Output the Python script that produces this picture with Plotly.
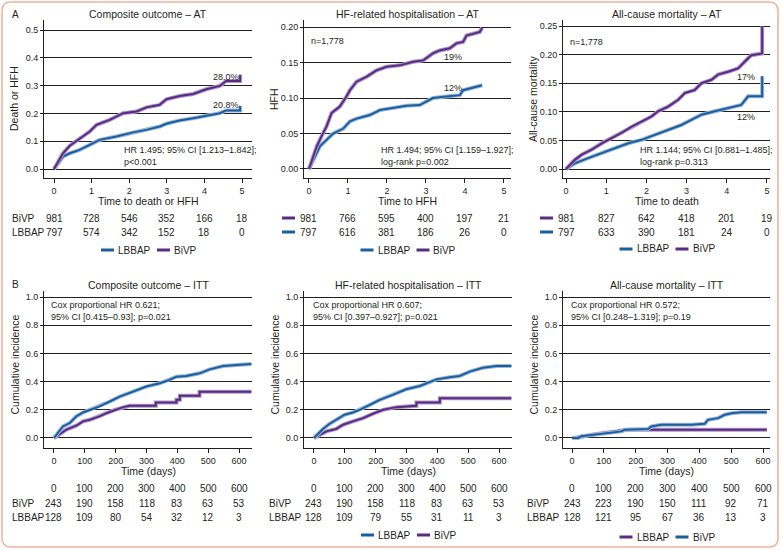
import plotly.graph_objects as go

W, H = 781, 550
FONT = "Liberation Sans"
INK = "#231f20"
BLUE = "#1b5e9e"
BLUE_HALO = "#9cb9da"
PURPLE = "#5b2b84"
PURPLE_HALO = "#ab98c6"

# ---------------- data ----------------
# A: as-treated, time in years
at_comp_t_bivp = [0, 0.24, 0.42, 0.68, 0.95, 1.13, 1.48, 1.84, 2.19, 2.46, 2.81, 2.99, 3.34, 3.70, 4.05, 4.41, 4.58, 4.95, 4.95]
at_comp_y_bivp = [0, 0.057, 0.084, 0.108, 0.135, 0.159, 0.177, 0.201, 0.207, 0.222, 0.231, 0.251, 0.263, 0.270, 0.287, 0.299, 0.317, 0.317, 0.339]
at_comp_t_lbbap = [0, 0.24, 0.42, 0.68, 0.95, 1.21, 1.66, 2.10, 2.46, 2.81, 2.99, 3.34, 3.70, 4.05, 4.41, 4.58, 4.95, 4.95]
at_comp_y_lbbap = [0, 0.045, 0.057, 0.069, 0.087, 0.105, 0.117, 0.132, 0.141, 0.153, 0.163, 0.175, 0.183, 0.191, 0.201, 0.211, 0.211, 0.227]

at_hfh_t_bivp = [0, 0.20, 0.32, 0.45, 0.58, 0.79, 0.96, 1.05, 1.22, 1.48, 1.73, 1.99, 2.33, 2.67, 2.93, 3.18, 3.35, 3.61, 3.78, 3.95, 4.04, 4.21, 4.38, 4.44]
at_hfh_y_bivp = [0, 0.032, 0.046, 0.060, 0.079, 0.088, 0.102, 0.111, 0.123, 0.130, 0.139, 0.144, 0.146, 0.151, 0.153, 0.163, 0.167, 0.170, 0.177, 0.179, 0.188, 0.191, 0.193, 0.199]
at_hfh_t_lbbap = [0, 0.15, 0.28, 0.45, 0.62, 0.88, 1.05, 1.22, 1.56, 1.82, 2.16, 2.50, 2.84, 3.01, 3.18, 3.52, 3.87, 3.95, 4.21, 4.44]
at_hfh_y_lbbap = [0, 0.018, 0.032, 0.041, 0.050, 0.057, 0.067, 0.071, 0.076, 0.083, 0.086, 0.089, 0.090, 0.095, 0.100, 0.102, 0.104, 0.111, 0.115, 0.118]

at_mort_t_bivp = [0, 0.22, 0.39, 0.64, 0.89, 1.13, 1.38, 1.63, 1.88, 2.13, 2.29, 2.54, 2.79, 2.96, 3.20, 3.37, 3.62, 3.78, 4.03, 4.28, 4.45, 4.61, 4.88, 4.88]
at_mort_y_bivp = [0, 0.016, 0.025, 0.034, 0.045, 0.054, 0.063, 0.074, 0.083, 0.092, 0.101, 0.109, 0.121, 0.133, 0.138, 0.150, 0.156, 0.165, 0.170, 0.176, 0.188, 0.199, 0.202, 0.249]
at_mort_t_lbbap = [0, 0.22, 0.55, 0.89, 1.22, 1.55, 1.88, 2.21, 2.54, 2.87, 3.12, 3.37, 3.70, 4.03, 4.36, 4.53, 4.88, 4.88]
at_mort_y_lbbap = [0, 0.010, 0.019, 0.028, 0.037, 0.045, 0.051, 0.060, 0.069, 0.077, 0.086, 0.095, 0.101, 0.106, 0.112, 0.127, 0.127, 0.162]

# B: intention-to-treat, time in days
itt_comp_t_lbbap = [0, 29, 51, 72, 94, 116, 148, 181, 213, 256, 299, 343, 375, 397, 429, 472, 505, 548, 591, 640]
itt_comp_y_lbbap = [0, 0.082, 0.106, 0.153, 0.181, 0.200, 0.224, 0.259, 0.294, 0.329, 0.365, 0.388, 0.412, 0.435, 0.440, 0.459, 0.487, 0.511, 0.518, 0.525]
itt_comp_t_bivp = [0, 40, 72, 94, 116, 148, 170, 197, 224, 245, 330, 330, 397, 397, 408, 408, 472, 472, 640]
itt_comp_y_bivp = [0, 0.059, 0.087, 0.118, 0.129, 0.153, 0.176, 0.200, 0.219, 0.228, 0.228, 0.252, 0.252, 0.271, 0.271, 0.299, 0.299, 0.329, 0.329]

itt_hfh_t_lbbap = [0, 29, 51, 83, 99, 126, 148, 181, 213, 256, 299, 343, 375, 397, 440, 472, 505, 548, 591, 640]
itt_hfh_y_lbbap = [0, 0.064, 0.101, 0.141, 0.165, 0.181, 0.200, 0.235, 0.271, 0.306, 0.346, 0.369, 0.400, 0.416, 0.431, 0.440, 0.471, 0.499, 0.511, 0.511]
itt_hfh_t_bivp = [0, 40, 72, 94, 126, 159, 191, 224, 267, 332, 332, 408, 408, 640]
itt_hfh_y_bivp = [0, 0.047, 0.064, 0.094, 0.118, 0.141, 0.172, 0.200, 0.219, 0.228, 0.252, 0.252, 0.282, 0.282]

itt_mort_t_bivp = [0, 19, 29, 71, 103, 155, 165, 239, 249, 281, 375, 417, 427, 459, 480, 501, 532, 612]
itt_mort_y_bivp = [0, 0, 0.012, 0.024, 0.035, 0.047, 0.059, 0.064, 0.082, 0.094, 0.094, 0.101, 0.129, 0.141, 0.165, 0.176, 0.182, 0.182]
itt_mort_t_lbbap = [0, 29, 61, 92, 134, 155, 176, 612]
itt_mort_y_lbbap = [0, 0.007, 0.024, 0.035, 0.047, 0.054, 0.059, 0.059]

# numbers at risk
at_ticks = [0, 1, 2, 3, 4, 5]
itt_ticks = [0, 100, 200, 300, 400, 500, 600]
at_comp_risk_bivp = [981, 728, 546, 352, 166, 18]
at_comp_risk_lbbap = [797, 574, 342, 152, 18, 0]
at_hfh_risk_bivp = [981, 766, 595, 400, 197, 21]
at_hfh_risk_lbbap = [797, 616, 381, 186, 26, 0]
at_mort_risk_bivp = [981, 827, 642, 418, 201, 19]
at_mort_risk_lbbap = [797, 633, 390, 181, 24, 0]
itt_comp_risk_bivp = [243, 190, 158, 118, 83, 63, 53]
itt_comp_risk_lbbap = [128, 109, 80, 54, 32, 12, 3]
itt_hfh_risk_bivp = [243, 190, 158, 118, 83, 63, 53]
itt_hfh_risk_lbbap = [128, 109, 79, 55, 31, 11, 3]
itt_mort_risk_bivp = [243, 223, 190, 150, 111, 92, 71]
itt_mort_risk_lbbap = [128, 121, 95, 67, 36, 13, 3]

# end-of-curve labels
at_comp_end_labels = ["28.0%", "20.8%"]
at_hfh_end_labels = ["19%", "12%"]
at_mort_end_labels = ["17%", "12%"]


def px(x):
    return x / W


def py(y):
    return 1 - y / H


def txt(text, x, y, size=9, xanchor="left", xref="paper", angle=0, yanchor="middle"):
    return dict(text=text, x=x, y=y, xref=xref, yref="paper", showarrow=False,
                xanchor=xanchor, yanchor=yanchor, textangle=angle, align="left",
                font=dict(family=FONT, size=size, color=INK))


# panel geometry (pixels) and axes
panels = [
    dict(x0=44, x1=252, top=20, bot=178, xr=[-0.266, 5.266], yr=[-0.032, 0.536],
         yt=[0, 0.1, 0.2, 0.3, 0.4, 0.5], yf=".1f", xt=at_ticks,
         title="Composite outcome – AT", ytitle="Death or HFH", xtitle="Time to death or HFH",
         curves=[(at_comp_t_lbbap, at_comp_y_lbbap, BLUE, BLUE_HALO),
                 (at_comp_t_bivp, at_comp_y_bivp, PURPLE, PURPLE_HALO)]),
    dict(x0=304, x1=511, top=20, bot=178, xr=[-0.128, 5.18], yr=[-0.0127, 0.2099],
         yt=[0, 0.05, 0.1, 0.15, 0.2], yf=".2f", xt=at_ticks,
         title="HF-related hospitalisation – AT", ytitle="HFH", xtitle="Time to HFH",
         curves=[(at_hfh_t_lbbap, at_hfh_y_lbbap, BLUE, BLUE_HALO),
                 (at_hfh_t_bivp, at_hfh_y_bivp, PURPLE, PURPLE_HALO)]),
    dict(x0=563, x1=770, top=20, bot=178, xr=[-0.075, 5.075], yr=[-0.0157, 0.2605],
         yt=[0, 0.05, 0.1, 0.15, 0.2, 0.25], yf=".2f", xt=at_ticks,
         title="All-cause mortality – AT", ytitle="All-cause mortality", xtitle="Time to death",
         curves=[(at_mort_t_lbbap, at_mort_y_lbbap, BLUE, BLUE_HALO),
                 (at_mort_t_bivp, at_mort_y_bivp, PURPLE, PURPLE_HALO)]),
    dict(x0=44, x1=252, top=291, bot=448, xr=[-32.4, 642], yr=[-0.071, 1.043],
         yt=[0, 0.2, 0.4, 0.6, 0.8, 1.0], yf=".1f", xt=itt_ticks,
         title="Composite outcome – ITT", ytitle="Cumulative incidence", xtitle="Time (days)",
         curves=[(itt_comp_t_bivp, itt_comp_y_bivp, PURPLE, PURPLE_HALO),
                 (itt_comp_t_lbbap, itt_comp_y_lbbap, BLUE, BLUE_HALO)]),
    dict(x0=304, x1=512, top=291, bot=448, xr=[-32.4, 642], yr=[-0.071, 1.043],
         yt=[0, 0.2, 0.4, 0.6, 0.8, 1.0], yf=".1f", xt=itt_ticks,
         title="HF-related hospitalisation – ITT", ytitle="Cumulative incidence", xtitle="Time (days)",
         curves=[(itt_hfh_t_bivp, itt_hfh_y_bivp, PURPLE, PURPLE_HALO),
                 (itt_hfh_t_lbbap, itt_hfh_y_lbbap, BLUE, BLUE_HALO)]),
    dict(x0=563, x1=770, top=291, bot=448, xr=[-28.3, 622], yr=[-0.071, 1.043],
         yt=[0, 0.2, 0.4, 0.6, 0.8, 1.0], yf=".1f", xt=itt_ticks,
         title="All-cause mortality – ITT", ytitle="Cumulative incidence", xtitle="Time (days)",
         curves=[(itt_mort_t_lbbap, itt_mort_y_lbbap, PURPLE, PURPLE_HALO),
                 (itt_mort_t_bivp, itt_mort_y_bivp, BLUE, BLUE_HALO)]),
]

fig = go.Figure()
annotations = []
shapes = []
layout_axes = {}

for i, p in enumerate(panels):
    n = "" if i == 0 else str(i + 1)
    xa, ya = "x" + n, "y" + n
    for t, y, col, halo in p["curves"]:
        fig.add_trace(go.Scatter(x=t, y=y, xaxis=xa, yaxis=ya, mode="lines",
                                 line=dict(color=halo, width=4), hoverinfo="skip", showlegend=False))
        fig.add_trace(go.Scatter(x=t, y=y, xaxis=xa, yaxis=ya, mode="lines",
                                 line=dict(color=col, width=2), showlegend=False))
    layout_axes["xaxis" + n] = dict(
        domain=[px(p["x0"]), px(p["x1"])], range=p["xr"], anchor=ya,
        tickvals=p["xt"], showgrid=False, zeroline=False, showline=True,
        linecolor=INK, linewidth=1, ticks="outside", ticklen=4, tickcolor=INK,
        tickfont=dict(family=FONT, size=9, color=INK), fixedrange=True)
    layout_axes["yaxis" + n] = dict(
        domain=[py(p["bot"]), py(p["top"])], range=p["yr"], anchor=xa,
        tickvals=p["yt"], tickformat=p["yf"], showgrid=True, gridcolor=INK, gridwidth=1,
        zeroline=False, showline=True, linecolor=INK, linewidth=1,
        ticks="outside", ticklen=3, tickcolor=INK,
        tickfont=dict(family=FONT, size=9, color=INK), fixedrange=True)

    top_row = p["top"] < 100
    annotations.append(txt(p["title"], 0.5, py(p["top"] - 6), size=10.5,
                           xanchor="center", xref=xa + " domain"))
    annotations.append(txt(p["ytitle"], px(p["x0"] - 30), py((p["top"] + p["bot"]) / 2 - (0 if top_row else 5)),
                           size=10.5, xanchor="center", angle=-90))
    annotations.append(txt(p["xtitle"], 0.5, py(201 if top_row else 471), size=10.5,
                           xanchor="center", xref=xa + " domain"))

# panel letters
annotations.append(txt("A", px(10), py(14), size=10))
annotations.append(txt("B", px(10), py(284), size=10))

# statistics text
stats = [
    ("HR 1.495; 95% CI [1.213–1.842];<br>p&lt;0.001", 122, 156),
    ("HR 1.494; 95% CI [1.159–1.927];<br>log-rank p=0.002", 379, 156),
    ("HR 1.144; 95% CI [0.881–1.485];<br>log-rank p=0.313", 638, 156),
    ("Cox proportional HR 0.621;<br>95% CI [0.415–0.93]; p=0.021", 49, 311),
    ("Cox proportional HR 0.607;<br>95% CI [0.397–0.927]; p=0.021", 311, 311),
    ("Cox proportional HR 0.572;<br>95% CI [0.248–1.319]; p=0.19", 569, 311),
]
for s, x, y in stats:
    annotations.append(txt(s, px(x), py(y), size=9))

annotations.append(txt("n=1,778", px(309), py(41), size=9))
annotations.append(txt("n=1,778", px(568), py(42), size=9))

# end labels
end_pos = [(at_comp_end_labels, "x", [(4.58, 77), (4.58, 105)]),
           (at_hfh_end_labels, "x2", [(3.70, 57), (3.70, 88)]),
           (at_mort_end_labels, "x3", [(4.48, 77), (4.48, 117)])]
for labels, xr, pos in end_pos:
    for lab, (x, y) in zip(labels, pos):
        annotations.append(txt(lab, x, py(y), size=9, xanchor="center", xref=xr))

# numbers at risk
risk = [
    ("x", at_ticks, at_comp_risk_bivp, at_comp_risk_lbbap, 218, 232, "text", 10),
    ("x2", at_ticks, at_hfh_risk_bivp, at_hfh_risk_lbbap, 218, 232, "glyph", 282),
    ("x3", at_ticks, at_mort_risk_bivp, at_mort_risk_lbbap, 218, 232, "glyph", 540),
    ("x4", itt_ticks, itt_comp_risk_bivp, itt_comp_risk_lbbap, 503, 517, "text", 10),
    ("x5", itt_ticks, itt_hfh_risk_bivp, itt_hfh_risk_lbbap, 503, 517, "text", 267),
    ("x6", itt_ticks, itt_mort_risk_bivp, itt_mort_risk_lbbap, 503, 517, "text", 525),
]
for xr, ticks, rb, rl, y1, y2, kind, lx in risk:
    for t, a, b in zip(ticks, rb, rl):
        annotations.append(txt(str(a), t, py(y1), size=10, xanchor="center", xref=xr))
        annotations.append(txt(str(b), t, py(y2), size=10, xanchor="center", xref=xr))
    if kind == "text":
        annotations.append(txt("BiVP", px(lx), py(y1), size=10))
        annotations.append(txt("LBBAP", px(lx), py(y2), size=10))
    else:
        for yy, col in ((y1, PURPLE), (y2, BLUE)):
            shapes.append(dict(type="line", xref="paper", yref="paper",
                               x0=px(lx), x1=px(lx + 13), y0=py(yy), y1=py(yy),
                               line=dict(color=col, width=3)))
    if xr in ("x4", "x5", "x6"):
        for t in ticks:
            annotations.append(txt(str(t), t, py(488), size=10, xanchor="center", xref=xr))

# legends
legends = [
    (0, 250, [(BLUE, "LBBAP"), (PURPLE, "BiVP")]),
    (1, 250, [(BLUE, "LBBAP"), (PURPLE, "BiVP")]),
    (2, 249, [(BLUE, "LBBAP"), (PURPLE, "BiVP")]),
    (4, 535, [(BLUE, "LBBAP"), (PURPLE, "BiVP")]),
    (5, 537, [(PURPLE, "LBBAP"), (BLUE, "BiVP")]),
]
for idx, y, items in legends:
    p = panels[idx]
    cx = (p["x0"] + p["x1"]) / 2
    for (col, lab), off in zip(items, (-47, 9)):
        shapes.append(dict(type="line", xref="paper", yref="paper",
                           x0=px(cx + off), x1=px(cx + off + 13), y0=py(y), y1=py(y),
                           line=dict(color=col, width=3)))
        annotations.append(txt(lab, px(cx + off + 15), py(y), size=10))

# rounded frame
bx0, by0, bx1, by1, r = 2, 2, 778, 547, 9


def P(x, y):
    return f"{px(x):.5f},{py(y):.5f}"


frame = (f"M {P(bx0 + r, by0)} L {P(bx1 - r, by0)} Q {P(bx1, by0)} {P(bx1, by0 + r)} "
         f"L {P(bx1, by1 - r)} Q {P(bx1, by1)} {P(bx1 - r, by1)} "
         f"L {P(bx0 + r, by1)} Q {P(bx0, by1)} {P(bx0, by1 - r)} "
         f"L {P(bx0, by0 + r)} Q {P(bx0, by0)} {P(bx0 + r, by0)} Z")
shapes.append(dict(type="path", xref="paper", yref="paper", path=frame,
                   line=dict(color="#efb3a3", width=1.6)))

fig.update_layout(
    width=W, height=H, margin=dict(l=0, r=0, t=0, b=0),
    paper_bgcolor="white", plot_bgcolor="white",
    font=dict(family=FONT, size=10, color=INK),
    showlegend=False, annotations=annotations, shapes=shapes,
    **layout_axes,
)

# the page's default body margin would shift the figure; remove it
fig.write_html("out.html", config={"displayModeBar": False},
               post_script="document.body.style.margin='0px';")
